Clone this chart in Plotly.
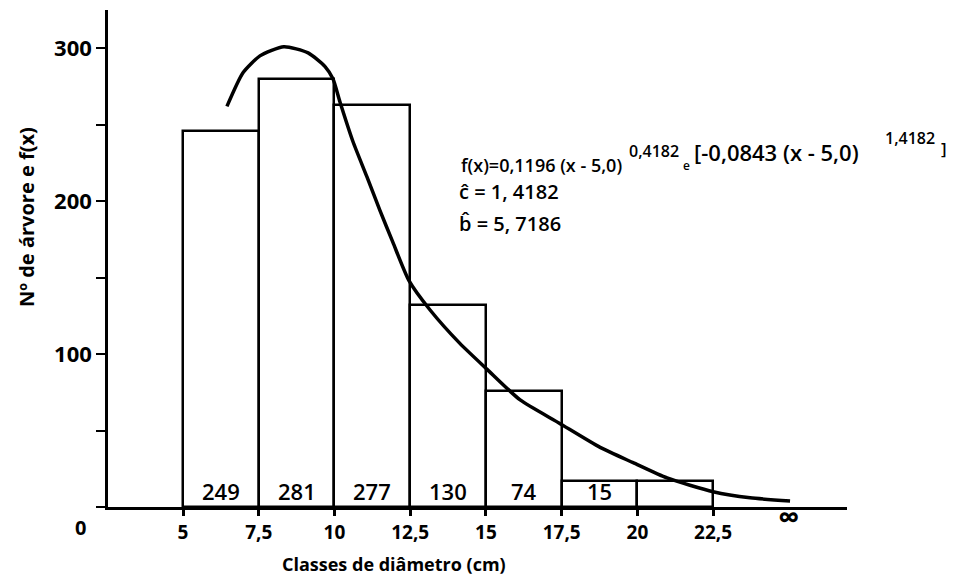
import plotly.graph_objects as go

# ---- data ----
class_left = [5, 7.5, 10, 12.5, 15, 17.5, 20]
class_width = 2.5
bar_heights = [246, 280, 263, 132, 76, 17, 17]
bar_labels = ["249", "281", "277", "130", "74", "15", ""]

curve_x = [6.45, 6.98, 7.54, 8.33, 9.13, 9.69, 9.95, 10.18, 10.61, 11.07, 11.50,
           11.93, 12.46, 13.15, 14.14, 15.04, 16.13, 17.41, 18.77, 19.86, 20.98,
           22.50, 23.72, 25.04]
curve_y = [262, 284, 295, 301, 297, 288, 280, 265, 239, 216, 194,
           173, 148, 129, 107, 90, 70, 55, 39, 29, 19,
           10, 6, 4]

x_tickvals = [5, 7.5, 10, 12.5, 15, 17.5, 20, 22.5]
x_ticktext = ["5", "7,5", "10", "12,5", "15", "17,5", "20", "22,5"]
y_tickvals = [100, 200, 300]
y_ticktext = ["100", "200", "300"]

FONT = "Open Sans"
L, R, T, B = 108, 119, 10, 73
W, H = 966, 580
PW, PH = W - L - R, H - T - B


def px(xp):
    return (xp - L) / PW


def py(yp):
    return (H - B - yp) / PH


centers = [l + class_width / 2 for l in class_left]

fig = go.Figure()
fig.add_trace(go.Bar(
    x=centers, y=bar_heights, width=[class_width] * len(centers),
    marker=dict(color="white", line=dict(color="black", width=2.5)),
    hoverinfo="skip", showlegend=False,
))
fig.add_trace(go.Scatter(
    x=curve_x, y=curve_y, mode="lines",
    line=dict(color="black", width=3.5, shape="spline", smoothing=0.6),
    hoverinfo="skip", showlegend=False,
))

annotations = []
for cx, lab in zip(centers, bar_labels):
    if lab:
        annotations.append(dict(x=cx, y=0, xref="x", yref="y", text=lab,
                                showarrow=False, yanchor="bottom", yshift=-1,
                                font=dict(family=FONT, size=22, color="black", weight=600)))

annotations.append(dict(x=25, y=py(516), xref="x", yref="paper", text="∞",
                        showarrow=False, yanchor="middle",
                        font=dict(family=FONT, size=30, color="black", weight=700)))
annotations.append(dict(x=px(80), y=py(527), xref="paper", yref="paper", text="0",
                        showarrow=False, xanchor="center", yanchor="middle",
                        font=dict(family=FONT, size=20, color="black", weight=700)))
annotations.append(dict(x=px(27), y=py(217), xref="paper", yref="paper",
                        text="Nº de árvore e f(x)", textangle=-90,
                        showarrow=False, xanchor="center", yanchor="middle",
                        font=dict(family=FONT, size=20, color="black", weight=700)))
annotations.append(dict(x=px(394), y=py(564), xref="paper", yref="paper",
                        text="Classes de diâmetro (cm)",
                        showarrow=False, xanchor="center", yanchor="middle",
                        font=dict(family=FONT, size=18, color="black", weight=700)))

# formula pieces: (text, left px, centre y px, size)
formula_parts = [
    ("f(x)=0,1196 (x - 5,0)", 459, 165, 18),
    ("0,4182", 627, 151, 16),
    ("e", 681, 165, 12),
    ("[-0,0843 (x - 5,0)", 692, 152, 22),
    ("1,4182", 883, 138, 16),
    ("]", 939, 149, 17),
    ("ĉ = 1, 4182", 457, 191, 20),
    ("b\u0302 = 5, 7186", 457, 223, 20),
]
for txt, xl, yc, sz in formula_parts:
    annotations.append(dict(x=px(xl), y=py(yc), xref="paper", yref="paper",
                            text=txt, showarrow=False, xanchor="left", yanchor="middle",
                            font=dict(family=FONT, size=sz, color="black", weight=600)))

fig.update_layout(
    width=W, height=H,
    margin=dict(l=L, r=R, t=T, b=B),
    paper_bgcolor="white", plot_bgcolor="white",
    bargap=0,
    annotations=annotations,
    xaxis=dict(range=[2.524, 26.92], showgrid=False, zeroline=False,
               showline=True, linecolor="black", linewidth=2.5,
               ticks="outside", ticklen=6, tickwidth=2.5, tickcolor="black",
               tickvals=x_tickvals, ticktext=x_ticktext,
               tickfont=dict(family=FONT, size=19, color="black", weight=700)),
    yaxis=dict(range=[0, 325], showgrid=False, zeroline=False,
               showline=True, linecolor="black", linewidth=2.5,
               ticks="outside", ticklen=9, tickwidth=2, tickcolor="black",
               tickvals=y_tickvals, ticktext=y_ticktext,
               minor=dict(dtick=50, ticks="outside", ticklen=9, tickwidth=2,
                          tickcolor="black", showgrid=False),
               tickfont=dict(family=FONT, size=22, color="black", weight=700)),
)

fig.write_html("out.html")
